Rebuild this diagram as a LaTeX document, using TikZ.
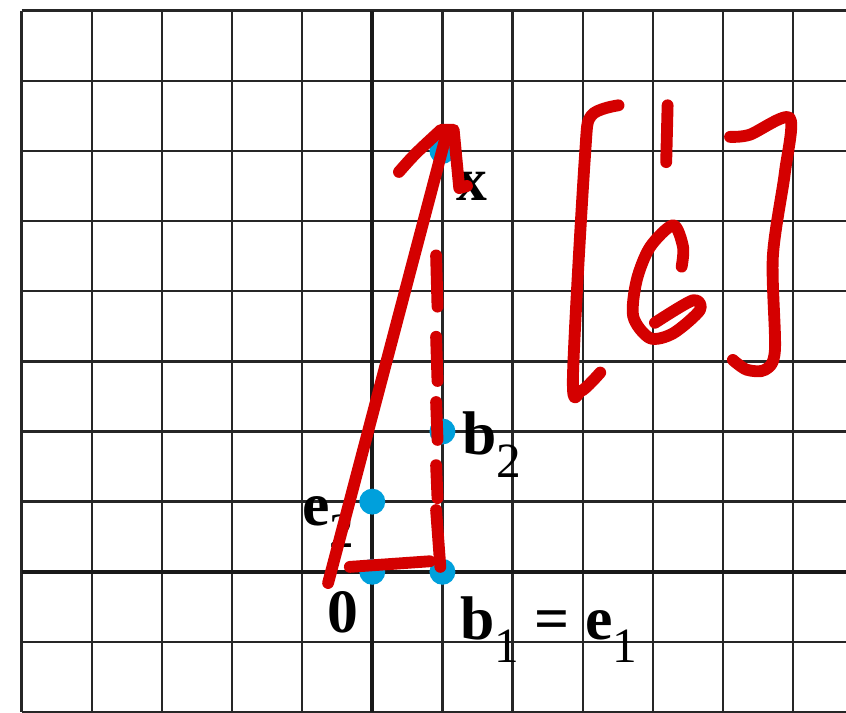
\documentclass[tikz,border=0pt]{standalone}
\usepackage{fontspec}
\setmainfont{Liberation Serif}
\usetikzlibrary{positioning}
\definecolor{PenRed}{HTML}{D40000}
\definecolor{DotBlue}{HTML}{00A0DC}
\newcommand{\vsub}[2]{\textbf{#1}\raisebox{-0.36em}{\fontsize{20}{20}\selectfont #2}}

\begin{document}
\begin{tikzpicture}[
  ink/.style={line width=4.8pt, PenRed, line cap=round, line join=round},
  lab/.style={anchor=base west, inner sep=0pt, font=\fontsize{25}{30}\selectfont}]
  \useasboundingbox (-5.307,-1.999) rectangle (6.753,8.151);
  % Grid and axes
  \draw[line width=0.95pt, black!85] (-5,-2) grid (6.753,8);
  \draw[line width=1.5pt, black!90] (-5,0) -- (6.753,0);
  \draw[line width=1.5pt, black!90] (0,-2) -- (0,8);
  % Points
  \coordinate (o) at (0,0);
  \coordinate (e1) at (1,0);
  \coordinate (e2) at (0,1);
  \coordinate (b2) at (1,2);
  \coordinate (x) at (1,6);
  \foreach \p in {o,e1,e2,b2,x}
    \fill[DotBlue] (\p) circle (0.185);
  % Labels
  \node[lab] (lx) at (1.2,5.30) {\textbf{x}};
  \node[lab] (lb2) at (1.28,1.665) {\vsub{b}{2}};
  \node[lab] (le2) at (-1.0,0.667) {\vsub{e}{2}};
  \node[lab] (lo) at (-0.646,-0.872) {\textbf{0}};
  \node[lab] (lb1) at (1.25,-0.97) {\vsub{b}{1} \textbf{=} \vsub{e}{1}};
  % Hand-drawn arrow to x
  \draw[ink] (-0.63,-0.16) -- (1.06,6.25);
  \draw[ink] (0.38,5.70) .. controls (0.6,5.95) .. (0.98,6.30) -- (1.16,6.30)
    -- (1.24,5.47) -- (1.35,5.50);
  % Bottom side and dashed side
  \draw[ink] (-0.32,0.07) -- (0.82,0.15);
  \foreach \ya/\yb/\xb in {4.51/3.78/0.93, 3.35/2.72/0.93, 2.42/1.88/0.93, 1.52/1.05/0.93, 0.88/0.07/0.97}
    \draw[ink] (0.91,\ya) -- (\xb,\yb);
  % Handwritten coordinate vector
  \draw[ink] plot[smooth] coordinates
    {(3.51,6.65) (3.12,6.50) (3.03,5.90) (2.86,2.75) (2.98,2.58) (3.25,2.84)};
  \draw[ink] (4.21,6.65) -- (4.19,5.84);
  \draw[ink] plot[smooth] coordinates
    {(4.41,4.35) (4.43,4.63) (4.29,4.94) (3.96,4.63) (3.77,4.16) (3.72,3.64)
     (3.96,3.33) (4.29,3.40) (4.67,3.73) (4.57,3.87) (4.03,3.55)};
  \draw[ink] plot[smooth] coordinates
    {(5.10,6.20) (5.38,6.23) (5.95,6.47) (5.88,5.68) (5.71,4.49) (5.74,3.16)
     (5.60,2.88) (5.34,2.88) (5.14,3.02)};
\end{tikzpicture}
\end{document}
